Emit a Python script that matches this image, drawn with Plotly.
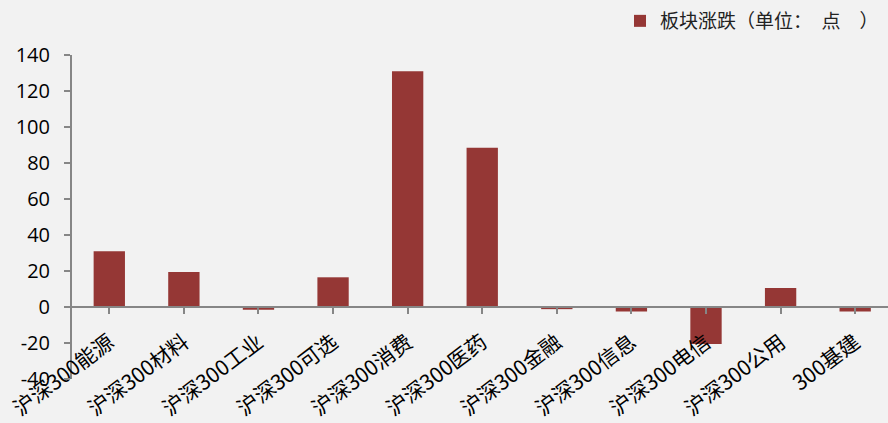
import plotly.graph_objects as go

categories = ["沪深300能源", "沪深300材料", "沪深300工业", "沪深300可选", "沪深300消费",
              "沪深300医药", "沪深300金融", "沪深300信息", "沪深300电信", "沪深300公用", "300基建"]
values = [31, 19.5, -1.5, 16.5, 131, 88.5, -1.2, -2.5, -20.5, 10.5, -2.5]
series_name = "板块涨跌（单位：　点　）"
y_ticks = [-40, -20, 0, 20, 40, 60, 80, 100, 120, 140]
y_tick_text = ["-40", "-20", "0", "20", "40", "60", "80", "100", "120", "140"]

W, H = 888, 423
top, bottom_px, left, right_px = 55, 379, 72, 888
ymin, ymax = -40, 140
zero_frac = (0 - ymin) / (ymax - ymin)

fig = go.Figure()
fig.add_trace(go.Bar(
    x=list(range(len(categories))), y=values, name=series_name,
    marker=dict(color="#953735", line=dict(width=0)),
    width=0.42, showlegend=True,
))

fig.update_layout(
    width=W, height=H,
    margin=dict(l=left, r=W - right_px, t=top, b=H - bottom_px, autoexpand=False),
    paper_bgcolor="#f2f2f2", plot_bgcolor="#f2f2f2",
    font=dict(family="Noto Sans CJK SC, sans-serif", color="#000000"),
    showlegend=True,
    legend=dict(x=(620 - left) / (right_px - left), y=(bottom_px - 2) / (bottom_px - top),
                xanchor="left", yanchor="top",
                bgcolor="rgba(0,0,0,0)", font=dict(size=19, family="Noto Sans CJK SC", color="#222222"),
                itemwidth=30),
    xaxis=dict(
        range=[-0.5, 10.44],
        tickmode="array", tickvals=list(range(len(categories))), ticktext=categories,
        tickangle=-37, tickfont=dict(size=21, family="Noto Sans CJK SC"),
        showline=True, linecolor="#868686", linewidth=2,
        ticks="outside", tickson="boundaries", ticklen=6, tickcolor="#868686", tickwidth=2,
        ticklabelstandoff=8,
        showgrid=False, zeroline=False,
        anchor="free", position=zero_frac,
    ),
    yaxis=dict(
        range=[ymin, ymax], tickmode="array", tickvals=y_ticks, ticktext=y_tick_text,
        tickfont=dict(size=20, family="Open Sans, sans-serif"),
        showline=True, linecolor="#868686", linewidth=2,
        ticks="outside", ticklen=6, tickcolor="#868686", tickwidth=2,
        ticklabelstandoff=10,
        showgrid=False, zeroline=False,
    ),
)

fig.write_html("out.html", config={"displayModeBar": False},
               post_script="document.body.style.margin='0';document.body.style.background='#f2f2f2';")
